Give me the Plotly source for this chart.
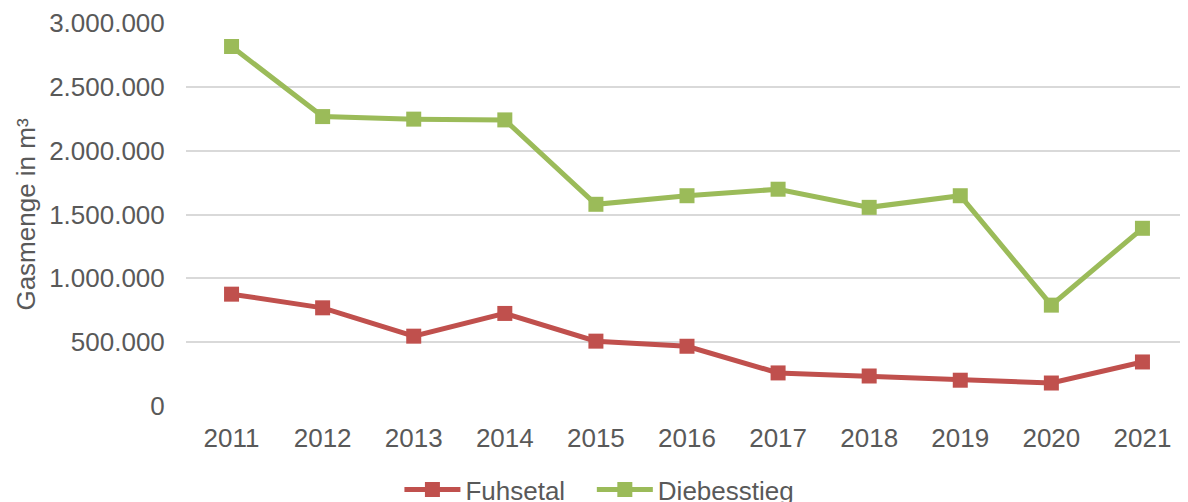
import plotly.graph_objects as go

years = ["2011", "2012", "2013", "2014", "2015", "2016", "2017", "2018", "2019", "2020", "2021"]
fuhsetal = [876000, 769000, 547000, 725000, 508000, 468000, 259000, 235000, 202000, 180000, 345000]
diebesstieg = [2816000, 2267000, 2247000, 2241000, 1580000, 1647000, 1698000, 1556000, 1647000, 790000, 1392000]
y_ticks = [0, 500000, 1000000, 1500000, 2000000, 2500000, 3000000]
y_labels = ["0", "500.000", "1.000.000", "1.500.000", "2.000.000", "2.500.000", "3.000.000"]

FONT = "Liberation Sans, Arial, sans-serif"
GRAY = "#595959"
FS = 26

fig = go.Figure()
fig.add_trace(go.Scatter(x=years, y=fuhsetal, name="Fuhsetal\u00a0\u00a0\u00a0", mode="lines+markers",
                         line=dict(color="#c0504d", width=5),
                         marker=dict(symbol="square", size=15, color="#c0504d")))
fig.add_trace(go.Scatter(x=years, y=diebesstieg, name="Diebesstieg", mode="lines+markers",
                         line=dict(color="#9bbb59", width=5),
                         marker=dict(symbol="square", size=15, color="#9bbb59")))

# page body has an 8px margin, so the figure is sized and placed to compensate
fig.update_layout(
    width=1180, height=494,
    margin=dict(l=178, r=0, t=15, b=96, autoexpand=False),
    paper_bgcolor="white", plot_bgcolor="white",
    font=dict(family=FONT, size=FS, color=GRAY),
    showlegend=True,
    legend=dict(orientation="h", x=0.213, xanchor="left", y=-0.157, yanchor="top",
                font=dict(family=FONT, size=FS, color=GRAY), itemwidth=56,
                bgcolor="rgba(0,0,0,0)", tracegroupgap=0),
    xaxis=dict(type="category", range=[-0.5, 10.5], showgrid=False, zeroline=False,
               showline=False, ticks="outside", ticklen=9, tickcolor="rgba(0,0,0,0)",
               tickfont=dict(family=FONT, size=FS, color=GRAY)),
    yaxis=dict(range=[0, 3000000], tickvals=y_ticks, ticktext=y_labels,
               showgrid=True, gridcolor="#d9d9d9", gridwidth=2, zeroline=False,
               showline=False, ticks="outside", ticklen=15, tickcolor="rgba(0,0,0,0)",
               tickfont=dict(family=FONT, size=FS, color=GRAY),
               title=dict(text="Gasmenge in m³", standoff=6,
                          font=dict(family=FONT, size=FS, color=GRAY))),
)

fig.write_html("out.html")
